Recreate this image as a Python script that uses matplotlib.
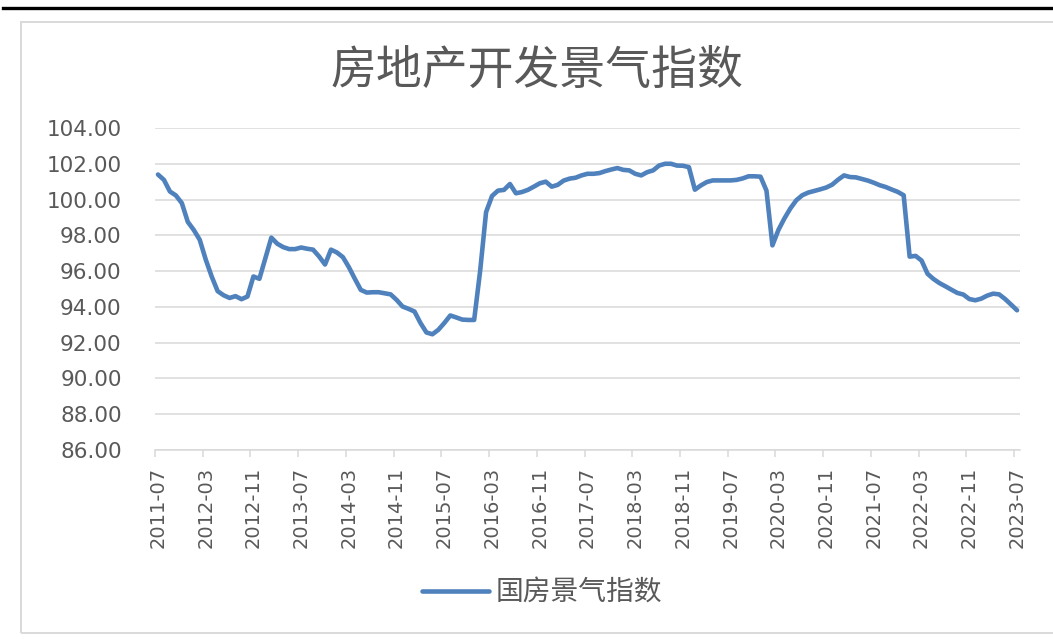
import matplotlib
matplotlib.use("Agg")
import matplotlib.pyplot as plt
from matplotlib.lines import Line2D
from matplotlib.patches import Rectangle
import numpy as np

# ---------------- data ----------------
title = "房地产开发景气指数"
series_name = "国房景气指数"
start_label = "2011-07"
tick_labels = ["2011-07", "2012-03", "2012-11", "2013-07", "2014-03", "2014-11",
               "2015-07", "2016-03", "2016-11", "2017-07", "2018-03", "2018-11",
               "2019-07", "2020-03", "2020-11", "2021-07", "2022-03", "2022-11",
               "2023-07"]
values = [
    101.40, 101.10, 100.45, 100.23, 99.80, 98.75, 98.30, 97.75, 96.65, 95.70,   # 2011-07 .. 2012-04
    94.88, 94.65, 94.50, 94.60, 94.43, 94.58, 95.70, 95.57, 96.73, 97.87,       # 2012-05 .. 2013-02
    97.53, 97.34, 97.23, 97.23, 97.32, 97.25, 97.20, 96.82, 96.37, 97.20,       # 2013-03 .. 2013-12
    97.04, 96.78, 96.22, 95.57, 94.95, 94.80, 94.82, 94.82, 94.76, 94.70,       # 2014-01 .. 2014-10
    94.39, 94.02, 93.89, 93.74, 93.10, 92.57, 92.47, 92.72, 93.10, 93.52,       # 2014-11 .. 2015-08
    93.41, 93.29, 93.27, 93.27, 96.00, 99.30, 100.20, 100.50, 100.54, 100.87,   # 2015-09 .. 2016-06
    100.35, 100.42, 100.54, 100.72, 100.91, 101.00, 100.72, 100.82, 101.06, 101.17,  # 2016-07 .. 2017-04
    101.22, 101.35, 101.44, 101.44, 101.48, 101.59, 101.68, 101.76, 101.66, 101.63,  # 2017-05 .. 2018-02
    101.44, 101.35, 101.53, 101.63, 101.90, 102.00, 102.00, 101.90, 101.89, 101.81,  # 2018-03 .. 2018-12
    100.55, 100.79, 100.98, 101.07, 101.07, 101.07, 101.07, 101.10, 101.18, 101.30,  # 2019-01 .. 2019-10
    101.30, 101.28, 100.50, 97.44, 98.30, 98.94, 99.50, 99.96, 100.24, 100.39,  # 2019-11 .. 2020-08
    100.48, 100.57, 100.67, 100.83, 101.11, 101.35, 101.26, 101.24, 101.15, 101.06,  # 2020-09 .. 2021-06
    100.94, 100.80, 100.70, 100.56, 100.43, 100.24, 96.81, 96.85, 96.59, 95.85,  # 2021-07 .. 2022-04
    95.56, 95.33, 95.15, 94.96, 94.78, 94.69, 94.44, 94.37, 94.46, 94.63,       # 2022-05 .. 2023-02
    94.74, 94.70, 94.44, 94.13, 93.81,                                          # 2023-03 .. 2023-07
]
y_ticks = [86, 88, 90, 92, 94, 96, 98, 100, 102, 104]

# ---------------- style ----------------
W, H = 1053, 639
LINE_COLOR = "#4f81bd"
TEXT_COLOR = "#595959"
GRID_COLOR = "#d9d9d9"
CJK = ["Noto Sans CJK SC", "DejaVu Sans"]

fig = plt.figure(figsize=(W / 100, H / 100), dpi=100)
fig.patch.set_facecolor("white")

# outer chart frame (extends past right edge) and black top rule
fig.add_artist(Rectangle((21 / W, 1 - 633 / H), (1062 - 21) / W, (633 - 22) / H,
                         transform=fig.transFigure, fill=False,
                         edgecolor=GRID_COLOR, lw=1.4, clip_on=False))
fig.add_artist(Line2D([3 / W, 1.0], [1 - 8 / H, 1 - 8 / H], transform=fig.transFigure,
                      color="black", lw=2.4))

ax = fig.add_axes([155 / W, 1 - 450 / H, (1020 - 155) / W, (450 - 128) / H])

x = np.arange(len(values))
line, = ax.plot(x, values, color=LINE_COLOR, lw=3.3,
                solid_capstyle="round", solid_joinstyle="round", label=series_name)

ax.set_xlim(-0.5, len(values) - 0.5)
ax.set_ylim(86, 104)

ax.set_yticks(y_ticks)
ax.set_yticklabels([f"{v:.2f}" for v in y_ticks], fontsize=15.5, color=TEXT_COLOR,
                   family="DejaVu Sans")
ax.tick_params(axis="y", length=0, pad=24)
ax.grid(axis="y", color=GRID_COLOR, lw=1.1)
ax.set_axisbelow(True)

label_pos = [i * 8 for i in range(len(tick_labels))]
ax.set_xticks(label_pos)
ax.set_xticklabels(tick_labels, rotation=90, fontsize=14, color=TEXT_COLOR,
                   family="DejaVu Sans", ha="center", va="top")
ax.set_xticks([p - 0.5 for p in label_pos], minor=True)
ax.tick_params(axis="x", which="major", length=0, pad=12)
ax.tick_params(axis="x", which="minor", length=5, width=1.1, color=GRID_COLOR,
               direction="out")

for s in ["top", "right", "left"]:
    ax.spines[s].set_visible(False)
ax.spines["bottom"].set_color(GRID_COLOR)
ax.spines["bottom"].set_linewidth(1.1)

fig.text(537 / W, 1 - 71 / H, title, ha="center", va="center", fontsize=33,
         color=TEXT_COLOR, family=CJK, weight="light")

leg = fig.legend(handles=[line], labels=[series_name], loc="center",
                 bbox_to_anchor=(542 / W, 1 - 593 / H), frameon=False,
                 handlelength=2.4, handletextpad=0.25,
                 prop={"family": CJK, "size": 20})
for t in leg.get_texts():
    t.set_color(TEXT_COLOR)

fig.savefig("out.png", dpi=100, facecolor="white")
